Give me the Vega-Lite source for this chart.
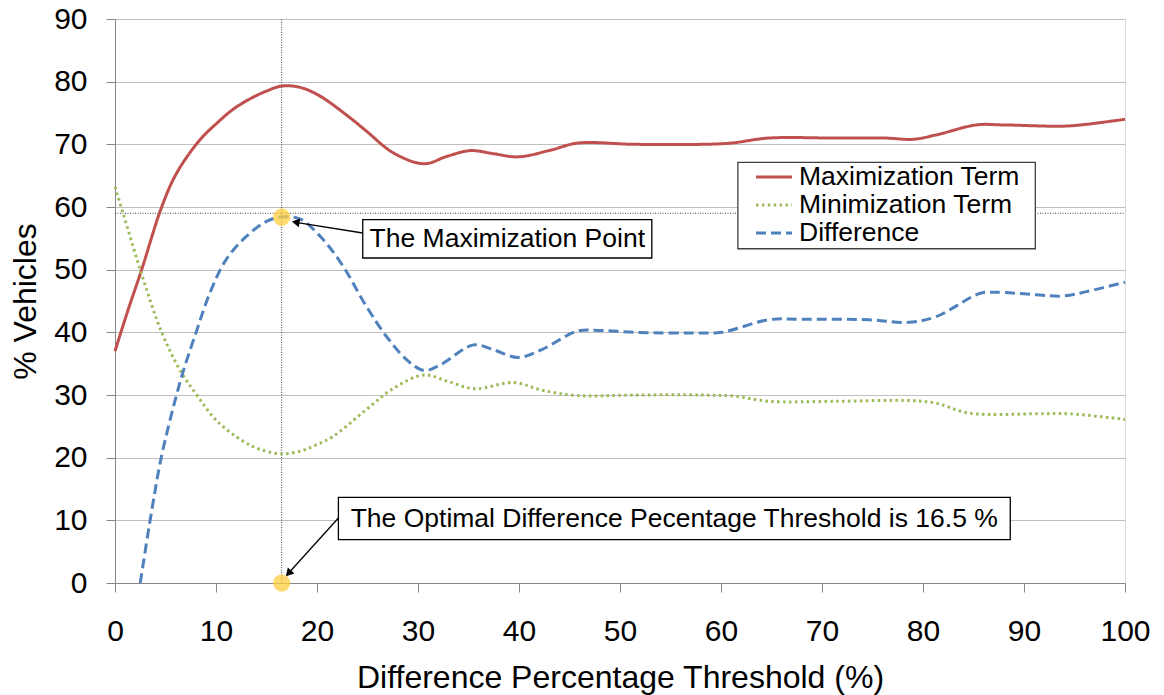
{
  "$schema": "https://vega.github.io/schema/vega-lite/v6.json",
  "width": 1010,
  "height": 564,
  "autosize": {"type": "none"},
  "padding": {"left": 115, "top": 19, "right": 39, "bottom": 112},
  "background": "white",
  "config": {
    "font": "Liberation Sans",
    "view": {"stroke": "#D9D9D9", "strokeWidth": 1},
    "axis": {
      "labelFont": "Liberation Sans",
      "titleFont": "Liberation Sans",
      "labelFontSize": 30,
      "titleFontSize": 32,
      "titleFontWeight": "normal",
      "labelColor": "#000000",
      "titleColor": "#000000",
      "domainColor": "#868686",
      "tickColor": "#868686",
      "tickSize": 9,
      "gridColor": "#BFBFBF",
      "gridWidth": 1,
      "labelFlush": false,
      "labelOverlap": false
    },
    "axisX": {"grid": false, "labelPadding": 24, "titlePadding": 16},
    "axisY": {"grid": true, "labelPadding": 19, "titlePadding": 11},
    "legend": {
      "labelFont": "Liberation Sans",
      "labelFontSize": 26.5,
      "labelColor": "#000000",
      "labelLimit": 0,
      "symbolType": "M-1.44,0H1.44",
      "symbolSize": 625,
      "symbolStrokeWidth": 3,
      "labelOffset": 11,
      "padding": 0,
      "rowPadding": -1
    }
  },
  "datasets": {
    "curves": [
      {"series": "Maximization Term", "x": 0, "y": 37},
      {"series": "Maximization Term", "x": 1.3, "y": 43.6},
      {"series": "Maximization Term", "x": 2.64, "y": 50},
      {"series": "Maximization Term", "x": 4.62, "y": 60},
      {"series": "Maximization Term", "x": 6.1, "y": 65.4},
      {"series": "Maximization Term", "x": 8.4, "y": 70.7},
      {"series": "Maximization Term", "x": 10.1, "y": 73.4},
      {"series": "Maximization Term", "x": 11.7, "y": 75.6},
      {"series": "Maximization Term", "x": 13.3, "y": 77.2},
      {"series": "Maximization Term", "x": 15, "y": 78.5},
      {"series": "Maximization Term", "x": 16.5, "y": 79.3},
      {"series": "Maximization Term", "x": 18.3, "y": 79.1},
      {"series": "Maximization Term", "x": 20.3, "y": 77.7},
      {"series": "Maximization Term", "x": 23.3, "y": 74.2},
      {"series": "Maximization Term", "x": 24.9, "y": 72.1},
      {"series": "Maximization Term", "x": 27.6, "y": 68.6},
      {"series": "Maximization Term", "x": 30.6, "y": 66.9},
      {"series": "Maximization Term", "x": 32.9, "y": 68.1},
      {"series": "Maximization Term", "x": 35.2, "y": 69.0},
      {"series": "Maximization Term", "x": 37.5, "y": 68.5},
      {"series": "Maximization Term", "x": 39.9, "y": 68.0},
      {"series": "Maximization Term", "x": 43.2, "y": 69.1},
      {"series": "Maximization Term", "x": 45.8, "y": 70.2},
      {"series": "Maximization Term", "x": 51.5, "y": 70.0},
      {"series": "Maximization Term", "x": 58.1, "y": 70.0},
      {"series": "Maximization Term", "x": 61, "y": 70.2},
      {"series": "Maximization Term", "x": 64.7, "y": 71.0},
      {"series": "Maximization Term", "x": 71.3, "y": 71.0},
      {"series": "Maximization Term", "x": 76.3, "y": 71.0},
      {"series": "Maximization Term", "x": 79.0, "y": 70.8},
      {"series": "Maximization Term", "x": 81.3, "y": 71.5},
      {"series": "Maximization Term", "x": 85.3, "y": 73.1},
      {"series": "Maximization Term", "x": 87.9, "y": 73.1},
      {"series": "Maximization Term", "x": 93.9, "y": 72.9},
      {"series": "Maximization Term", "x": 96.2, "y": 73.2},
      {"series": "Maximization Term", "x": 100, "y": 74.0},
      {"series": "Minimization Term", "x": 0, "y": 63.2},
      {"series": "Minimization Term", "x": 0.8, "y": 59},
      {"series": "Minimization Term", "x": 2.5, "y": 50},
      {"series": "Minimization Term", "x": 4.6, "y": 40.1},
      {"series": "Minimization Term", "x": 6.6, "y": 33.5},
      {"series": "Minimization Term", "x": 8.1, "y": 30},
      {"series": "Minimization Term", "x": 10, "y": 26},
      {"series": "Minimization Term", "x": 12.7, "y": 22.6},
      {"series": "Minimization Term", "x": 14.4, "y": 21.3},
      {"series": "Minimization Term", "x": 16.5, "y": 20.6},
      {"series": "Minimization Term", "x": 18.5, "y": 21.1},
      {"series": "Minimization Term", "x": 20, "y": 22.1},
      {"series": "Minimization Term", "x": 21.6, "y": 23.4},
      {"series": "Minimization Term", "x": 24.9, "y": 27.7},
      {"series": "Minimization Term", "x": 27.6, "y": 31.1},
      {"series": "Minimization Term", "x": 30.6, "y": 33.2},
      {"series": "Minimization Term", "x": 32.9, "y": 32.2},
      {"series": "Minimization Term", "x": 35.6, "y": 31.0},
      {"series": "Minimization Term", "x": 39.5, "y": 32.0},
      {"series": "Minimization Term", "x": 42.2, "y": 30.8},
      {"series": "Minimization Term", "x": 45.8, "y": 29.9},
      {"series": "Minimization Term", "x": 51.4, "y": 30},
      {"series": "Minimization Term", "x": 58, "y": 30},
      {"series": "Minimization Term", "x": 61.4, "y": 29.8},
      {"series": "Minimization Term", "x": 64.7, "y": 29.0},
      {"series": "Minimization Term", "x": 71.3, "y": 29.0},
      {"series": "Minimization Term", "x": 79, "y": 29.1},
      {"series": "Minimization Term", "x": 81.3, "y": 28.7},
      {"series": "Minimization Term", "x": 84.6, "y": 27.1},
      {"series": "Minimization Term", "x": 91.2, "y": 27.0},
      {"series": "Minimization Term", "x": 94.5, "y": 27.0},
      {"series": "Minimization Term", "x": 100, "y": 26.1},
      {"series": "Difference", "x": 2.5, "y": 0},
      {"series": "Difference", "x": 3.6, "y": 11.2},
      {"series": "Difference", "x": 4.6, "y": 20.2},
      {"series": "Difference", "x": 5.8, "y": 28.2},
      {"series": "Difference", "x": 6.7, "y": 33.5},
      {"series": "Difference", "x": 8.05, "y": 40.1},
      {"series": "Difference", "x": 9.4, "y": 46.3},
      {"series": "Difference", "x": 11, "y": 51.6},
      {"series": "Difference", "x": 13, "y": 55.3},
      {"series": "Difference", "x": 15, "y": 57.7},
      {"series": "Difference", "x": 16.5, "y": 58.4},
      {"series": "Difference", "x": 18.3, "y": 58.1},
      {"series": "Difference", "x": 20.5, "y": 55.0},
      {"series": "Difference", "x": 22.6, "y": 50.5},
      {"series": "Difference", "x": 24.9, "y": 44.1},
      {"series": "Difference", "x": 26.9, "y": 39.3},
      {"series": "Difference", "x": 28.9, "y": 35.6},
      {"series": "Difference", "x": 30.6, "y": 33.9},
      {"series": "Difference", "x": 32.2, "y": 34.8},
      {"series": "Difference", "x": 35.5, "y": 38.0},
      {"series": "Difference", "x": 37.5, "y": 37.2},
      {"series": "Difference", "x": 39.9, "y": 36.0},
      {"series": "Difference", "x": 42.2, "y": 37.2},
      {"series": "Difference", "x": 45.8, "y": 40.2},
      {"series": "Difference", "x": 48.1, "y": 40.3},
      {"series": "Difference", "x": 51.5, "y": 40.0},
      {"series": "Difference", "x": 58.1, "y": 39.9},
      {"series": "Difference", "x": 60.1, "y": 40.0},
      {"series": "Difference", "x": 64.7, "y": 42.0},
      {"series": "Difference", "x": 68, "y": 42.1},
      {"series": "Difference", "x": 74.7, "y": 42.0},
      {"series": "Difference", "x": 78.6, "y": 41.6},
      {"series": "Difference", "x": 81.3, "y": 42.5},
      {"series": "Difference", "x": 85.6, "y": 46.2},
      {"series": "Difference", "x": 87.2, "y": 46.4},
      {"series": "Difference", "x": 91.2, "y": 46.0},
      {"series": "Difference", "x": 93.9, "y": 45.8},
      {"series": "Difference", "x": 96.2, "y": 46.5},
      {"series": "Difference", "x": 100, "y": 48.0}
    ],
    "vguide": [{"x": 16.5, "y": 0, "y2": 90}],
    "hguide": [{"x": 0, "x2": 100, "y": 59}],
    "legendbox": [{"x": 61.67, "x2": 91.12, "y": 67.11, "y2": 53.34}],
    "markers": [{"x": 16.5, "y": 58.4}, {"x": 16.5, "y": 0}],
    "arrows": [
      {"x": 24.53, "y": 55.85, "x2": 17.9, "y2": 57.55},
      {"x": 22.12, "y": 10.37, "x2": 17.2, "y2": 1.6}
    ],
    "heads": [
      {"x": 17.89, "y": 57.57, "angle": 9.2},
      {"x": 17.18, "y": 1.55, "angle": -47.9}
    ],
    "boxes": [
      {"x": 24.53, "x2": 53.15, "y": 57.97, "y2": 51.86},
      {"x": 22.12, "x2": 88.64, "y": 13.66, "y2": 6.91}
    ],
    "labels": [
      {"x": 38.84, "y": 54.9, "label": "The Maximization Point"},
      {"x": 55.37, "y": 10.28, "label": "The Optimal Difference Pecentage Threshold is 16.5 %"}
    ]
  },
  "layer": [
    {
      "data": {"name": "vguide"},
      "mark": {"type": "rule", "color": "#404040", "strokeWidth": 1, "strokeDash": [1, 1.5]},
      "encoding": {
        "x": {"field": "x", "type": "quantitative", "scale": {"domain": [0, 100], "nice": false},
              "axis": {"values": [0, 10, 20, 30, 40, 50, 60, 70, 80, 90, 100], "title": "Difference Percentage Threshold (%)"}},
        "y": {"field": "y", "type": "quantitative", "scale": {"domain": [0, 90], "nice": false},
              "axis": {"values": [0, 10, 20, 30, 40, 50, 60, 70, 80, 90], "title": "% Vehicles"}},
        "y2": {"field": "y2"}
      }
    },
    {
      "data": {"name": "hguide"},
      "mark": {"type": "rule", "color": "#404040", "strokeWidth": 1, "strokeDash": [1, 1.5]},
      "encoding": {
        "x": {"field": "x", "type": "quantitative"},
        "x2": {"field": "x2"},
        "y": {"field": "y", "type": "quantitative"}
      }
    },
    {
      "data": {"name": "legendbox"},
      "mark": {"type": "rect", "fill": "white", "stroke": "#404040", "strokeWidth": 1.3},
      "encoding": {
        "x": {"field": "x", "type": "quantitative"},
        "x2": {"field": "x2"},
        "y": {"field": "y", "type": "quantitative"},
        "y2": {"field": "y2"}
      }
    },
    {
      "data": {"name": "curves"},
      "mark": {"type": "line", "strokeWidth": 3, "interpolate": "catmull-rom", "strokeCap": "butt"},
      "encoding": {
        "x": {"field": "x", "type": "quantitative"},
        "y": {"field": "y", "type": "quantitative"},
        "color": {
          "field": "series", "type": "nominal",
          "scale": {"domain": ["Maximization Term", "Minimization Term", "Difference"], "range": ["#C0504D", "#9BBB59", "#4F81BD"]},
          "legend": {"title": null, "orient": "none", "legendX": 645, "legendY": 144}
        },
        "strokeDash": {
          "field": "series", "type": "nominal",
          "scale": {"domain": ["Maximization Term", "Minimization Term", "Difference"], "range": [[1, 0], [2.5, 3.4], [10, 5]]},
          "legend": {"title": null, "orient": "none", "legendX": 645, "legendY": 144}
        }
      }
    },
    {
      "data": {"name": "markers"},
      "mark": {"type": "point", "filled": true, "size": 300, "color": "#FFCF3F", "opacity": 0.75},
      "encoding": {
        "x": {"field": "x", "type": "quantitative"},
        "y": {"field": "y", "type": "quantitative"}
      }
    },
    {
      "data": {"name": "arrows"},
      "mark": {"type": "rule", "color": "#000000", "strokeWidth": 1.3},
      "encoding": {
        "x": {"field": "x", "type": "quantitative"},
        "y": {"field": "y", "type": "quantitative"},
        "x2": {"field": "x2"},
        "y2": {"field": "y2"}
      }
    },
    {
      "data": {"name": "heads"},
      "mark": {"type": "point", "shape": "triangle-left", "filled": true, "size": 80, "color": "#000000", "opacity": 1},
      "encoding": {
        "x": {"field": "x", "type": "quantitative"},
        "y": {"field": "y", "type": "quantitative"},
        "angle": {"field": "angle", "type": "quantitative", "scale": null}
      }
    },
    {
      "data": {"name": "boxes"},
      "mark": {"type": "rect", "fill": "white", "stroke": "#000000", "strokeWidth": 1.3},
      "encoding": {
        "x": {"field": "x", "type": "quantitative"},
        "x2": {"field": "x2"},
        "y": {"field": "y", "type": "quantitative"},
        "y2": {"field": "y2"}
      }
    },
    {
      "data": {"name": "labels"},
      "mark": {"type": "text", "font": "Liberation Sans", "fontSize": 26.5, "color": "#000000", "align": "center", "baseline": "middle"},
      "encoding": {
        "x": {"field": "x", "type": "quantitative"},
        "y": {"field": "y", "type": "quantitative"},
        "text": {"field": "label"}
      }
    }
  ]
}
